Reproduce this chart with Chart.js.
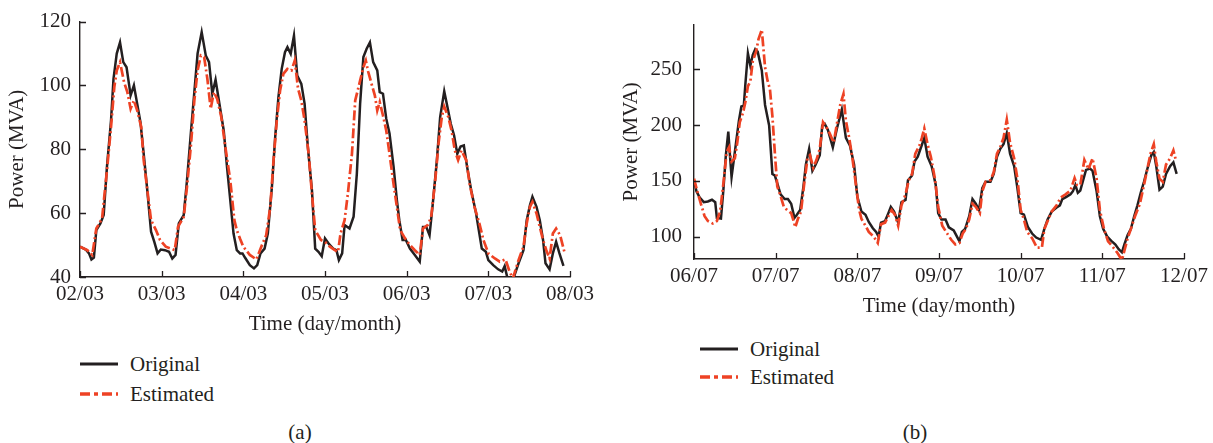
<!DOCTYPE html>
<html>
<head>
<meta charset="utf-8">
<script src="https://cdn.jsdelivr.net/npm/chart.js@4.4.1/dist/chart.umd.min.js"></script>
<style>
  html, body { margin: 0; padding: 0; background: #fff; }
  body { width: 1213px; height: 443px; position: relative; overflow: hidden;
         font-family: 'Liberation Serif', 'DejaVu Serif', serif; color: #231f20; }
  canvas { position: absolute; top: 0; }
  .txt { position: absolute; font-size: 21px; line-height: 24px; transform: translateY(-50%); white-space: nowrap; }
  .cap { transform: translate(-50%, -50%); }
  .key { position: absolute; transform: translateY(-50%); }
</style>
</head>
<body>
<canvas id="chartA" width="610" height="337" style="left:0"></canvas>
<canvas id="chartB" width="603" height="319" style="left:610px"></canvas>

<svg class="key" style="left:80px;top:364px" width="38" height="6"><line x1="0" y1="3" x2="38" y2="3" stroke="#231f20" stroke-width="3"/></svg>
<div class="txt" style="left:130px;top:364px">Original</div>
<svg class="key" style="left:80px;top:394px" width="38" height="6"><line x1="0" y1="3" x2="38" y2="3" stroke="#ee4224" stroke-width="3.5" stroke-dasharray="10 4 4 4"/></svg>
<div class="txt" style="left:130px;top:394px">Estimated</div>
<div class="txt cap" style="left:300px;top:432px">(a)</div>

<svg class="key" style="left:700px;top:349px" width="38" height="6"><line x1="0" y1="3" x2="38" y2="3" stroke="#231f20" stroke-width="3"/></svg>
<div class="txt" style="left:750px;top:349px">Original</div>
<svg class="key" style="left:700px;top:377px" width="38" height="6"><line x1="0" y1="3" x2="38" y2="3" stroke="#ee4224" stroke-width="3.5" stroke-dasharray="10 4 4 4"/></svg>
<div class="txt" style="left:750px;top:377px">Estimated</div>
<div class="txt cap" style="left:915px;top:432px">(b)</div>

<script>
// (a) 02/03 – 08/03, x in days since the first tick
const datesA = ['02/03', '03/03', '04/03', '05/03', '06/03', '07/03', '08/03'];
const origDaysA = [
  0, 0.07, 0.11, 0.14, 0.17, 0.20, 0.25, 0.29, 0.33, 0.38,
  0.41, 0.45, 0.49, 0.53, 0.57, 0.62, 0.66, 0.70, 0.74, 0.78,
  0.82, 0.87, 0.91, 0.95, 0.99, 1.04, 1.09, 1.13, 1.17, 1.21,
  1.27, 1.31, 1.36, 1.40, 1.44, 1.49, 1.54, 1.58, 1.62, 1.66,
  1.71, 1.76, 1.80, 1.84, 1.88, 1.92, 1.96, 1.99, 2.02, 2.08,
  2.13, 2.17, 2.21, 2.26, 2.30, 2.35, 2.39, 2.43, 2.47, 2.51,
  2.54, 2.58, 2.62, 2.66, 2.71, 2.75, 2.79, 2.84, 2.88, 2.92,
  2.96, 3.00, 3.05, 3.10, 3.14, 3.17, 3.21, 3.24, 3.30, 3.35,
  3.39, 3.43, 3.47, 3.51, 3.55, 3.59, 3.64, 3.67, 3.71, 3.75,
  3.79, 3.84, 3.88, 3.91, 3.95, 3.99, 4.04, 4.10, 4.16, 4.20,
  4.24, 4.28, 4.32, 4.37, 4.41, 4.46, 4.50, 4.54, 4.58, 4.62,
  4.66, 4.70, 4.74, 4.79, 4.85, 4.89, 4.92, 4.97, 5.00, 5.06,
  5.12, 5.17, 5.20, 5.24, 5.30, 5.37, 5.43, 5.47, 5.51, 5.54,
  5.59, 5.63, 5.67, 5.70, 5.75, 5.79, 5.83, 5.87, 5.92,
];
const origPowerA = [
  49.5, 48.6, 47.4, 45.5, 46.1, 54.7, 56.8, 59.4, 74.5, 89.1,
  102, 110, 113.5, 107.3, 105.7, 96.9, 100, 94.3, 88.5, 78.6,
  68.2, 54.2, 51, 47.4, 48.6, 48.4, 47.9, 45.8, 46.9, 56.8,
  59.4, 70.3, 85.9, 97.9, 110, 116.7, 109.4, 107.3, 97.4, 101.8,
  93.8, 85.9, 74.5, 64.1, 53.6, 48.4, 47.4, 47.4, 46.1, 43.7,
  42.7, 43.7, 47.4, 48.9, 53.6, 68.2, 83.8, 96.4, 105.2, 110.4,
  112, 109.9, 115.6, 103.1, 100.5, 94.3, 80.7, 67.2, 48.9, 47.9,
  46.5, 52.1, 50.3, 48.9, 48.4, 45.3, 47.4, 56.3, 55.2, 58.9,
  72.4, 94.3, 108.9, 111.5, 113.5, 107.3, 104.7, 97.9, 97.4, 89.6,
  85, 74.5, 64.1, 57.8, 51.6, 51.6, 48.9, 46.9, 44.8, 55.7,
  55.7, 53.1, 63, 76.6, 90.1, 98.2, 93.2, 88, 84.4, 78.6,
  80.9, 81.2, 74.5, 67.2, 59.9, 53.6, 48.9, 47.9, 45.3, 43.7,
  42.4, 41.7, 43.4, 39, 39, 44.3, 48.4, 57.8, 62.5, 65.1,
  62, 57.8, 51.6, 44.3, 42.4, 47.4, 51, 47.5, 43.5,
];
const estDaysA = [
  0, 0.09, 0.15, 0.20, 0.27, 0.33, 0.38, 0.42, 0.45, 0.49,
  0.54, 0.58, 0.62, 0.66, 0.70, 0.75, 0.78, 0.83, 0.87, 0.93,
  0.98, 1.05, 1.11, 1.16, 1.20, 1.27, 1.31, 1.36, 1.40, 1.44,
  1.48, 1.52, 1.56, 1.60, 1.64, 1.68, 1.73, 1.78, 1.84, 1.89,
  1.92, 1.96, 2.00, 2.08, 2.16, 2.22, 2.28, 2.33, 2.37, 2.41,
  2.45, 2.49, 2.54, 2.59, 2.63, 2.67, 2.71, 2.75, 2.80, 2.84,
  2.88, 2.95, 3.00, 3.06, 3.12, 3.16, 3.19, 3.24, 3.28, 3.33,
  3.37, 3.43, 3.47, 3.50, 3.53, 3.57, 3.61, 3.64, 3.67, 3.71,
  3.75, 3.79, 3.84, 3.88, 3.92, 3.98, 4.04, 4.10, 4.16, 4.20,
  4.26, 4.30, 4.35, 4.39, 4.43, 4.46, 4.51, 4.55, 4.59, 4.63,
  4.67, 4.73, 4.77, 4.83, 4.89, 4.94, 5.00, 5.08, 5.14, 5.21,
  5.26, 5.30, 5.37, 5.43, 5.47, 5.51, 5.54, 5.59, 5.63, 5.67,
  5.71, 5.75, 5.79, 5.83, 5.88, 5.93,
];
const estPowerA = [
  49.5, 48.4, 46.9, 55.2, 58.3, 73.4, 87, 99.5, 104.7, 107.3,
  101, 97.9, 92.7, 95.3, 92.2, 87, 76.6, 66.1, 57.8, 54.7,
  51.6, 49.5, 48.9, 48.4, 55.7, 58.8, 68.2, 81.8, 95.3, 104.7,
  109.4, 108.9, 102, 92.7, 97.9, 95.8, 90.1, 80.7, 70.3, 57.8,
  54.7, 52, 49.5, 46.9, 45.5, 49.5, 53.1, 62, 76.6, 89.1,
  98.4, 103.6, 105.2, 104.7, 107.8, 99, 95.3, 89.1, 78.6, 66.1,
  54.7, 51.6, 51, 49.5, 48.4, 47.9, 53.6, 57.8, 66.1, 78.6,
  95.3, 101.5, 105.7, 107.8, 104.2, 100.5, 96.9, 92.2, 94.8, 90.6,
  85.9, 78.6, 69, 62, 54.7, 52.1, 50, 48.4, 46.9, 55.2,
  56.3, 58.8, 70.3, 81.8, 90.1, 93.4, 90.1, 85.9, 79.6, 76.6,
  79.6, 76.6, 69.3, 62, 56.8, 51.6, 47.4, 45.8, 44.8, 45.5,
  41.7, 39.5, 45.3, 49.5, 56.8, 62, 63.5, 59.9, 55.7, 51.6,
  48.4, 45.8, 53.6, 55.2, 53, 48,
];

// (b) 06/07 – 12/07
const datesB = ['06/07', '07/07', '08/07', '09/07', '10/07', '11/07', '12/07'];
const origDaysB = [
  0, 0.03, 0.07, 0.12, 0.17, 0.22, 0.26, 0.28, 0.33, 0.36,
  0.39, 0.42, 0.44, 0.46, 0.49, 0.52, 0.55, 0.58, 0.61, 0.63,
  0.66, 0.69, 0.72, 0.75, 0.78, 0.83, 0.87, 0.92, 0.96, 0.99,
  1.02, 1.06, 1.11, 1.15, 1.19, 1.23, 1.26, 1.30, 1.34, 1.37,
  1.41, 1.45, 1.49, 1.54, 1.57, 1.60, 1.64, 1.70, 1.75, 1.81,
  1.86, 1.91, 1.96, 2.00, 2.05, 2.10, 2.14, 2.19, 2.23, 2.26,
  2.29, 2.34, 2.38, 2.41, 2.45, 2.50, 2.54, 2.59, 2.62, 2.67,
  2.70, 2.74, 2.78, 2.82, 2.86, 2.91, 2.96, 2.99, 3.03, 3.08,
  3.12, 3.18, 3.22, 3.25, 3.28, 3.32, 3.37, 3.41, 3.45, 3.49,
  3.53, 3.57, 3.63, 3.67, 3.71, 3.75, 3.79, 3.83, 3.87, 3.92,
  3.96, 4.00, 4.04, 4.09, 4.14, 4.19, 4.25, 4.29, 4.33, 4.38,
  4.44, 4.48, 4.51, 4.56, 4.61, 4.64, 4.67, 4.70, 4.73, 4.76,
  4.80, 4.85, 4.88, 4.93, 4.97, 5.01, 5.06, 5.11, 5.16, 5.20,
  5.24, 5.27, 5.31, 5.35, 5.39, 5.43, 5.47, 5.51, 5.55, 5.60,
  5.63, 5.66, 5.70, 5.74, 5.78, 5.83, 5.87, 5.91,
];
const origPowerB = [
  150.6, 140.7, 135.1, 130.9, 131.5, 133.1, 130.9, 116.9, 116.3, 142.1,
  173, 194.1, 173, 153.4, 170.2, 187.1, 203.9, 216.6, 217.4, 237.6,
  264.3, 253.1, 262.9, 268, 265.7, 248.9, 218, 199.7, 156.2, 154.8,
  147.8, 137.9, 133.7, 133.7, 129.5, 116.9, 119.7, 123.9, 144.9, 164.6,
  178.7, 159, 164.6, 173, 199.7, 201.1, 195.5, 180.1, 196.9, 213.8,
  188.5, 181.5, 164.6, 136, 122.5, 119.7, 113.2, 107.6, 104.2, 100,
  112.6, 114, 121.1, 126.7, 122.5, 112.6, 130.9, 132.9, 150.6, 154.8,
  167.4, 171.6, 180.1, 188.5, 171.6, 163.2, 146.3, 121.1, 115.4, 115.4,
  108.4, 105.6, 100, 95.8, 104.2, 107, 118.3, 133.7, 129.5, 123.9,
  143.5, 149.2, 149.2, 156.2, 171.6, 178.7, 182.9, 192.7, 174.4, 163.2,
  143.5, 121.1, 119.7, 108.4, 102.8, 99.2, 97.2, 107, 115.4, 122.5,
  126.1, 128.1, 133.7, 135.7, 137.9, 140.7, 146.3, 139.3, 141.3, 149.2,
  159.8, 161, 159, 140.7, 118.3, 107, 100, 96.3, 93, 88.8,
  86, 93, 101.4, 107, 118.3, 128.1, 139.3, 149.2, 160.4, 173,
  175.8, 163.2, 142.1, 144.9, 156.2, 163.2, 166.6, 156.2,
];
const estDaysB = [
  0, 0.04, 0.09, 0.13, 0.17, 0.23, 0.28, 0.32, 0.36, 0.40,
  0.43, 0.46, 0.50, 0.53, 0.56, 0.60, 0.63, 0.66, 0.69, 0.72,
  0.76, 0.79, 0.83, 0.87, 0.90, 0.93, 0.96, 0.99, 1.02, 1.06,
  1.10, 1.14, 1.19, 1.22, 1.24, 1.27, 1.31, 1.35, 1.39, 1.42,
  1.46, 1.50, 1.54, 1.58, 1.62, 1.66, 1.71, 1.75, 1.79, 1.83,
  1.86, 1.90, 1.94, 1.98, 2.02, 2.05, 2.10, 2.14, 2.20, 2.25,
  2.29, 2.34, 2.38, 2.42, 2.46, 2.50, 2.54, 2.59, 2.63, 2.67,
  2.71, 2.76, 2.79, 2.82, 2.86, 2.90, 2.95, 2.99, 3.04, 3.10,
  3.15, 3.20, 3.25, 3.29, 3.33, 3.37, 3.41, 3.45, 3.50, 3.53,
  3.57, 3.63, 3.67, 3.71, 3.75, 3.79, 3.83, 3.87, 3.92, 3.96,
  4.00, 4.04, 4.08, 4.14, 4.20, 4.26, 4.29, 4.33, 4.38, 4.44,
  4.49, 4.55, 4.61, 4.66, 4.69, 4.73, 4.78, 4.83, 4.88, 4.93,
  4.97, 5.02, 5.07, 5.12, 5.18, 5.24, 5.27, 5.31, 5.35, 5.40,
  5.46, 5.51, 5.55, 5.59, 5.63, 5.66, 5.70, 5.74, 5.78, 5.83,
  5.87, 5.90,
];
const estPowerB = [
  152, 140.7, 128.1, 118.3, 114, 111.8, 114, 122.5, 147.8, 175.8,
  180.1, 167.4, 170.2, 184.3, 202.5, 211, 220.8, 234.8, 239, 257.3,
  265.7, 277, 285.4, 252, 240, 232, 208, 175, 145, 136.5,
  126.7, 123.9, 121.1, 114, 108.4, 115.4, 122.5, 147.8, 170.2, 173,
  161.8, 168.8, 178.7, 202.5, 198.3, 192.7, 184.3, 201.1, 218, 227.8,
  203.9, 188.5, 170.2, 148, 125, 116, 109.8, 104.2, 100, 94.4,
  111.2, 112.6, 118.3, 123.9, 119.7, 109.8, 128.1, 137.9, 150.6, 156.2,
  174.4, 181.5, 188.5, 196.9, 182.9, 171.6, 152, 126.7, 109.8, 102.8,
  97.2, 93, 94.4, 102.8, 107, 115.4, 129.5, 126.7, 121.1, 140.7,
  149.2, 150.6, 157.6, 174.4, 180.1, 188.5, 204.8, 184.3, 170.2, 152,
  123.9, 115.4, 104.2, 98.6, 90.2, 90.2, 107, 114, 122.5, 128.1,
  135.1, 137.9, 141.3, 152.5, 146.3, 146.3, 168.8, 160.4, 170.2, 152,
  123.9, 107, 95.8, 91.6, 86, 79, 87.4, 98.6, 107, 118.3,
  129.5, 146.3, 160.4, 174.4, 182.9, 167.4, 152, 149.2, 164.6, 170.2,
  177.3, 168.8,
];

const INK = '#231f20';
const RED = '#ee4224';
const FONT = { family: "'Liberation Serif', 'DejaVu Serif', serif", size: 21 };

const pts = (xs, ys) => xs.map((x, i) => ({ x, y: ys[i] }));

// short tick marks pointing into the plot area
const innerTicks = {
  id: 'innerTicks',
  afterDraw(chart) {
    const { ctx, chartArea: a, scales: { x, y } } = chart;
    ctx.save();
    ctx.strokeStyle = INK;
    ctx.lineWidth = 1.3;
    ctx.beginPath();
    x.ticks.forEach((t) => {
      const px = Math.round(x.getPixelForValue(t.value)) + 0.5;
      ctx.moveTo(px, a.bottom); ctx.lineTo(px, a.bottom - 6);
    });
    y.ticks.forEach((t) => {
      const py = Math.round(y.getPixelForValue(t.value)) + 0.5;
      ctx.moveTo(a.left, py); ctx.lineTo(a.left + 6, py);
    });
    ctx.stroke();
    ctx.restore();
  },
};

function panel(id, { dates, orig, est, yMin, yMax, yTicks, yAxisW, yPad, yTitlePad, pad }) {
  return new Chart(document.getElementById(id), {
    type: 'line',
    data: {
      datasets: [
        { label: 'Estimated', data: est, order: 0, borderColor: RED, borderWidth: 2.7,
          borderDash: [10, 3, 2, 3], pointRadius: 0, tension: 0 },
        { label: 'Original', data: orig, order: 1, borderColor: INK, borderWidth: 2.5,
          pointRadius: 0, tension: 0 },
      ],
    },
    plugins: [innerTicks],
    options: {
      responsive: false, animation: false, devicePixelRatio: 1,
      layout: { padding: pad },
      plugins: { legend: { display: false }, tooltip: { enabled: false } },
      scales: {
        x: {
          type: 'linear', min: 0, max: dates.length - 1,
          afterBuildTicks: (s) => { s.ticks = dates.map((_, i) => ({ value: i })); },
          afterFit: (s) => { s.height = 60; },
          grid: { display: false, drawTicks: false },
          border: { color: INK, width: 1.4 },
          ticks: { callback: (v) => dates[v], font: FONT, color: INK, padding: 5, maxRotation: 0, autoSkip: false },
          title: { display: true, text: 'Time (day/month)', font: FONT, color: INK, padding: { top: 0, bottom: 0 } },
        },
        y: {
          min: yMin, max: yMax,
          afterBuildTicks: (s) => { s.ticks = yTicks.map((v) => ({ value: v })); },
          afterFit: (s) => { s.width = yAxisW; },
          grid: { display: false, drawTicks: false },
          border: { color: INK, width: 1.4 },
          ticks: { font: FONT, color: INK, padding: yPad },
          title: { display: true, text: 'Power (MVA)', font: FONT, color: INK, padding: { top: yTitlePad, bottom: 0 } },
        },
      },
    },
  });
}

panel('chartA', {
  dates: datesA, orig: pts(origDaysA, origPowerA), est: pts(estDaysA, estPowerA),
  yMin: 40, yMax: 120, yTicks: [40, 60, 80, 100, 120],
  yAxisW: 80, yPad: 9, yTitlePad: 5, pad: { top: 21, right: 40, left: 0, bottom: 0 },
});

panel('chartB', {
  dates: datesB, orig: pts(origDaysB, origPowerB), est: pts(estDaysB, estPowerB),
  yMin: 80, yMax: 290, yTicks: [100, 150, 200, 250],
  yAxisW: 84, yPad: 12, yTitlePad: 9, pad: { top: 9, right: 29, left: 0, bottom: 0 },
});
</script>
</body>
</html>
